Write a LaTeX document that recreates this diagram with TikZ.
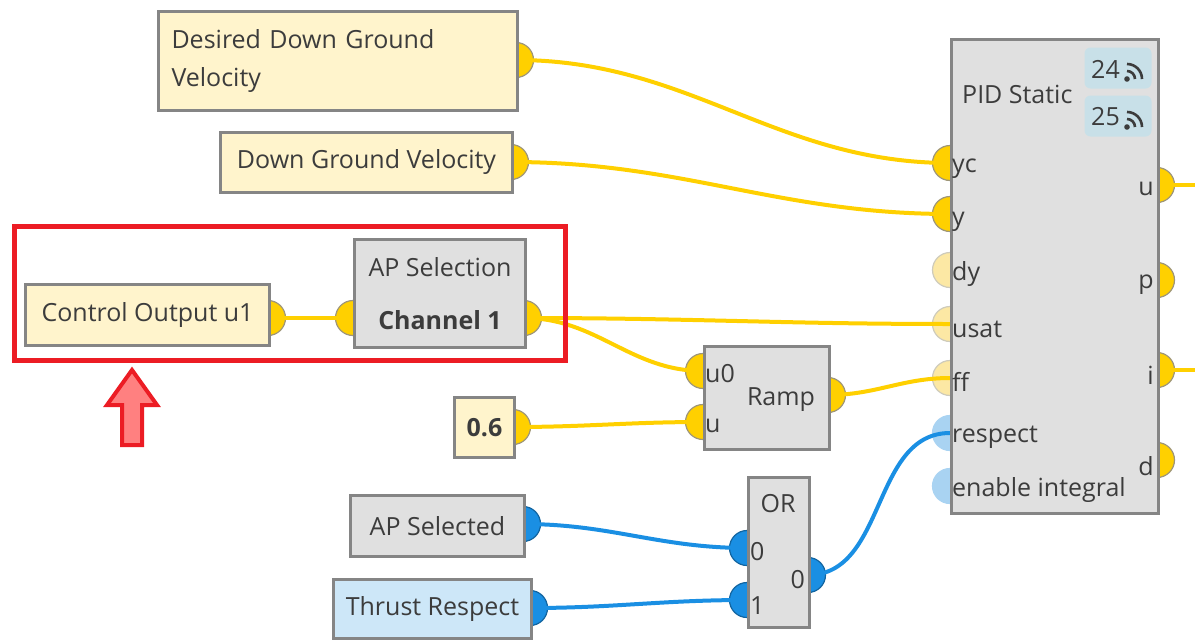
\documentclass[tikz,border=0pt]{standalone}
\usepackage{fontspec}
\setmainfont{Open Sans}
\usetikzlibrary{backgrounds}

\definecolor{edgegray}{HTML}{858585}
\definecolor{boxgray}{HTML}{E0E0E0}
\definecolor{boxyellow}{HTML}{FFF4CC}
\definecolor{boxblue}{HTML}{CDE7F8}
\definecolor{portyellow}{HTML}{FFD000}
\definecolor{paleyellow}{HTML}{FCE8A4}
\definecolor{portblue}{HTML}{1A8FE3}
\definecolor{paleblue}{HTML}{A9D3F2}
\definecolor{portedge}{HTML}{9E9678}
\definecolor{badgeblue}{HTML}{C8E0E8}
\definecolor{txtgray}{HTML}{3C3C3C}
\definecolor{hired}{HTML}{EC1C24}
\definecolor{hipink}{HTML}{FF8080}

\begin{document}
\begin{tikzpicture}[x=1pt, y=-1pt, font=\fontsize{25}{30}\selectfont, text=txtgray]
\tikzstyle{blk}=[draw=edgegray, line width=3pt, anchor=north west, inner sep=0pt, align=center]
\tikzstyle{port}=[circle, draw=portedge, line width=1.2pt, minimum size=35pt, inner sep=0pt]
\tikzstyle{wire}=[line width=4pt]
\tikzstyle{badge}=[fill=badgeblue, rounded corners=6pt, minimum width=67pt, minimum height=41pt, inner sep=0pt]
\tikzstyle{plabel}=[inner sep=0pt]
\useasboundingbox (0,0) rectangle (1195,640);

% blocks
\node[blk, fill=boxyellow, minimum width=359pt, minimum height=99pt, text width=333pt, align=left,
  font=\fontsize{25}{38}\selectfont] (desired) at (157,10) {Desired Down Ground\\Velocity};
\node[blk, fill=boxyellow, minimum width=292pt, minimum height=60pt] (dgv) at (219,131) {Down Ground Velocity};
\node[blk, fill=boxyellow, minimum width=244pt, minimum height=61pt] (ctrl) at (24,283) {Control Output u1};
\node[blk, fill=boxgray, minimum width=171pt, minimum height=108pt,
  font=\fontsize{25}{53}\selectfont] (apsel) at (353,238) {AP Selection\\\textbf{Channel 1}};
\node[blk, fill=boxyellow, minimum width=60pt, minimum height=60pt] (val) at (453,396) {\textbf{0.6}};
\node[blk, fill=boxgray, minimum width=125pt, minimum height=103pt] (ramp) at (703,345) {};
\node[blk, fill=boxgray, minimum width=174pt, minimum height=61pt] (apsd) at (349,494) {AP Selected};
\node[blk, fill=boxblue, minimum width=198pt, minimum height=59pt] (thrust) at (332,578) {Thrust Respect};
\node[blk, fill=boxgray, minimum width=61pt, minimum height=150pt] (orgate) at (747,476) {};
\node[blk, fill=boxgray, minimum width=207pt, minimum height=474pt] (pid) at (950,38) {};

% block texts
\node (rampt) at (781,400) {Ramp};
\node[plabel, anchor=west] (ru0) at (705,374) {u0};
\node[plabel, anchor=west] (ru) at (705,426) {u};
\node (ort) at (778,504) {OR};
\node[plabel, anchor=west] (or0) at (750,552) {0};
\node[plabel, anchor=west] (or1) at (750,606) {1};
\node[plabel, anchor=east] (orq) at (805,580) {0};
\node[plabel, anchor=west] (pidt) at (962,94) {PID Static};
\node[plabel, anchor=west] (lyc) at (952,169) {yc};
\node[plabel, anchor=west] (ly) at (952,222) {y};
\node[plabel, anchor=west] (ldy) at (952,274) {dy};
\node[plabel, anchor=west] (lusat) at (952,329) {usat};
\node[plabel, anchor=west] (lff) at (952,382) {ff};
\node[plabel, anchor=west] (lresp) at (952,437) {respect};
\node[plabel, anchor=west] (lenab) at (952,490) {enable integral};
\node[plabel, anchor=east] (lu) at (1154,189) {u};
\node[plabel, anchor=east] (lp) at (1154,285) {p};
\node[plabel, anchor=east] (li) at (1154,375) {i};
\node[plabel, anchor=east] (ld) at (1154,466) {d};

% badges
\node[badge] (b24) at (1118,68) {};
\node[badge] (b25) at (1118,116) {};
\node[plabel, anchor=west] (t24) at (1091,69) {24};
\node[plabel, anchor=west] (t25) at (1091,117) {25};
\foreach \by in {79,127} {
  \fill[txtgray] (1127,\by) circle (2.8pt);
  \draw[txtgray, line width=2.6pt] (1127,\by) +(8pt,0) arc[start angle=0, end angle=90, radius=8pt];
  \draw[txtgray, line width=2.6pt] (1127,\by) +(15pt,0) arc[start angle=0, end angle=90, radius=15pt];
}

% highlight
\node[draw=hired, line width=5pt, anchor=north west, minimum width=551pt, minimum height=134pt] (focus) at (12,224) {};
\draw[draw=hired, fill=hipink, line width=4pt]
  (132,370) -- (157,405) -- (142,405) -- (142,445) -- (122,445) -- (122,405) -- (107,405) -- cycle;

\begin{pgfonlayer}{background}
% ports
\node[port, fill=portyellow] (p-des) at (516,60) {};
\node[port, fill=portyellow] (p-dgv) at (511,162) {};
\node[port, fill=portyellow] (p-ctrl) at (268,318) {};
\node[port, fill=portyellow] (p-apin) at (353,318) {};
\node[port, fill=portyellow] (p-apout) at (524,318) {};
\node[port, fill=portyellow] (p-val) at (513,427) {};
\node[port, fill=portyellow] (p-u0) at (703,371) {};
\node[port, fill=portyellow] (p-u) at (703,422) {};
\node[port, fill=portyellow] (p-ramp) at (828,395) {};
\node[port, fill=portblue, draw=portblue!70!black] (p-apsd) at (523,524) {};
\node[port, fill=portblue, draw=portblue!70!black] (p-thr) at (530,608) {};
\node[port, fill=portblue, draw=portblue!70!black] (p-or0) at (747,548) {};
\node[port, fill=portblue, draw=portblue!70!black] (p-or1) at (747,600) {};
\node[port, fill=portblue, draw=portblue!70!black] (p-orq) at (808,575) {};
\node[port, fill=portyellow] (p-yc) at (950,163) {};
\node[port, fill=portyellow] (p-y) at (950,214) {};
\node[port, fill=paleyellow, draw=portedge!50] (p-dy) at (950,270) {};
\node[port, fill=paleyellow, draw=portedge!50] (p-usat) at (950,324) {};
\node[port, fill=paleyellow, draw=portedge!50] (p-ff) at (950,378) {};
\node[port, fill=paleblue, draw=paleblue] (p-resp) at (950,433) {};
\node[port, fill=paleblue, draw=paleblue] (p-enab) at (950,486) {};
\node[port, fill=portyellow] (p-pu) at (1157,185) {};
\node[port, fill=portyellow] (p-pp) at (1157,280) {};
\node[port, fill=portyellow] (p-pi) at (1157,370) {};
\node[port, fill=portyellow] (p-pd) at (1157,460) {};
\coordinate (uend) at (1196,185);
\coordinate (iend) at (1196,370);

% wires
\draw[wire, portyellow] (p-des.center) to[out=0, in=180] (p-yc.center);
\draw[wire, portyellow] (p-dgv.center) to[out=0, in=180] (p-y.center);
\draw[wire, portyellow] (p-ctrl.center) -- (p-apin.center);
\draw[wire, portyellow] (p-apout.center) to[out=0, in=180] (p-usat.center);
\draw[wire, portyellow] (p-apout.center) to[out=0, in=180] (p-u0.center);
\draw[wire, portyellow] (p-val.center) to[out=0, in=180] (p-u.center);
\draw[wire, portyellow] (p-ramp.center) to[out=0, in=180] (p-ff.center);
\draw[wire, portyellow] (p-pu.center) -- (uend);
\draw[wire, portyellow] (p-pi.center) -- (iend);
\draw[wire, portblue] (p-apsd.center) to[out=0, in=180] (p-or0.center);
\draw[wire, portblue] (p-thr.center) to[out=0, in=180] (p-or1.center);
\draw[wire, portblue] (p-orq.center) to[out=0, in=180] (p-resp.center);
\end{pgfonlayer}
\end{tikzpicture}
\end{document}
